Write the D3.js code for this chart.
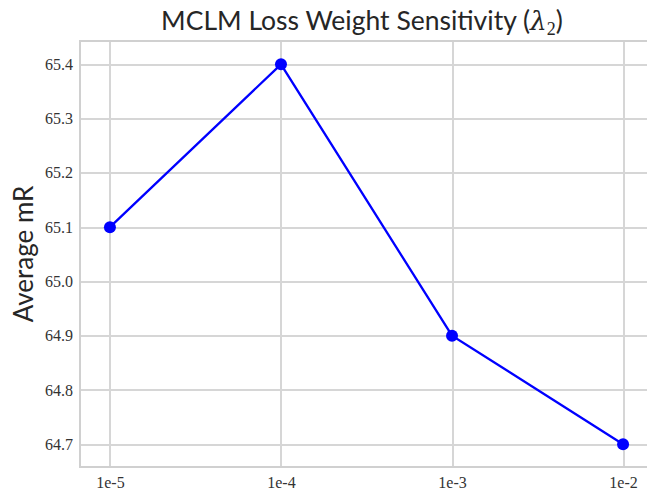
<!DOCTYPE html>
<head>
    <meta charset="utf-8">
    <style>
        body { margin: 0; background: #fff; }
        svg { display: block; }
        .grid line { stroke: #d6d6d6; stroke-width: 2; shape-rendering: crispEdges; }
        .tick text { font-family: "Liberation Serif", serif; font-size: 16px; fill: #333; }
        .title { font-family: Lato, "DejaVu Sans", sans-serif; font-size: 26.5px; fill: #262626; }
        .ylabel { font-family: Lato, "DejaVu Sans", sans-serif; font-size: 26px; fill: #262626; }
    </style>
</head>
<body>
    <script src="https://d3js.org/d3.v7.min.js"></script>
    <script>
        var categories = ["1e-5", "1e-4", "1e-3", "1e-2"];
        var values = [65.1, 65.4, 64.9, 64.7];
        var yTicks = [64.7, 64.8, 64.9, 65.0, 65.1, 65.2, 65.3, 65.4];

        var width = 647, height = 492;
        var mLeft = 80, mRight = 653, mTop = 41, mBottom = 467;

        var svg = d3.select("body").append("svg")
            .attr("width", width)
            .attr("height", height);

        // x uses index positions with matplotlib-ish margins
        var x = d3.scaleLinear()
            .domain([-0.175, 3.175])
            .range([mLeft, mRight]);

        var y = d3.scaleLinear()
            .domain([64.658, 65.443])
            .range([mBottom, mTop]);

        // gridlines
        var xAxis = d3.axisBottom(x)
            .tickValues(d3.range(categories.length))
            .tickFormat(function (i) { return categories[i]; })
            .tickSize(-(mBottom - mTop))
            .tickPadding(10);

        var yAxis = d3.axisLeft(y)
            .tickValues(yTicks)
            .tickFormat(d3.format(".1f"))
            .tickSize(-(mRight - mLeft))
            .tickPadding(7);

        var gx = svg.append("g")
            .attr("class", "grid")
            .attr("transform", "translate(0," + mBottom + ")")
            .call(xAxis);
        gx.select(".domain").remove();

        var gy = svg.append("g")
            .attr("class", "grid")
            .attr("transform", "translate(" + mLeft + ",0)")
            .call(yAxis);
        gy.select(".domain").remove();

        // frame
        svg.append("rect")
            .attr("x", mLeft)
            .attr("y", mTop)
            .attr("width", mRight - mLeft)
            .attr("height", mBottom - mTop)
            .attr("fill", "none")
            .attr("stroke", "#d0d0d0")
            .attr("stroke-width", 2)
            .attr("shape-rendering", "crispEdges");

        var line = d3.line()
            .x(function (d, i) { return x(i); })
            .y(function (d) { return y(d); });

        svg.append("path")
            .datum(values)
            .attr("d", line)
            .attr("fill", "none")
            .attr("stroke", "#0000ff")
            .attr("stroke-width", 2.3);

        svg.selectAll(".dot")
            .data(values)
            .enter().append("circle")
            .attr("class", "dot")
            .attr("cx", function (d, i) { return x(i); })
            .attr("cy", function (d) { return y(d); })
            .attr("r", 6)
            .attr("fill", "#0000ff");

        var title = svg.append("text")
            .attr("class", "title")
            .attr("x", 362)
            .attr("y", 30)
            .attr("text-anchor", "middle");
        title.append("tspan").text("MCLM Loss Weight Sensitivity (");
        title.append("tspan").attr("font-family", "'DejaVu Serif', serif").attr("font-style", "italic").text("λ");
        title.append("tspan").attr("font-size", "18px").attr("dy", 5).attr("font-family", "'Liberation Serif', serif").text("2");
        title.append("tspan").attr("dy", -5).text(")");

        svg.append("text")
            .attr("class", "ylabel")
            .attr("transform", "translate(33," + ((mTop + mBottom) / 2) + ") rotate(-90)")
            .attr("text-anchor", "middle")
            .text("Average mR");
    </script>
</body>
</html>
